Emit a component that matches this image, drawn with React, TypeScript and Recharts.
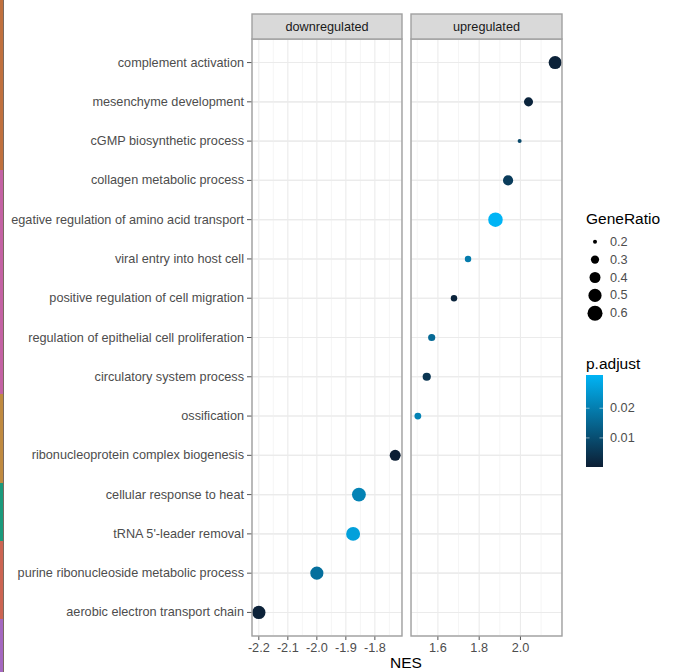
import { ScatterChart, Scatter, XAxis, YAxis, ZAxis, CartesianGrid, ReferenceLine, Cell } from "recharts";

// rows, top to bottom
const terms = [
  "complement activation",
  "mesenchyme development",
  "cGMP biosynthetic process",
  "collagen metabolic process",
  "egative regulation of amino acid transport",
  "viral entry into host cell",
  "positive regulation of cell migration",
  "regulation of epithelial cell proliferation",
  "circulatory system process",
  "ossification",
  "ribonucleoprotein complex biogenesis",
  "cellular response to heat",
  "tRNA 5'-leader removal",
  "purine ribonucleoside metabolic process",
  "aerobic electron transport chain",
];

const upTerms = terms.slice(0, 10);
const upNES = [2.168, 2.039, 1.996, 1.94, 1.879, 1.746, 1.678, 1.57, 1.546, 1.503];
const upRatio = [0.49, 0.32, 0.19, 0.36, 0.57, 0.24, 0.24, 0.26, 0.29, 0.25];
const upPadj = [0.001, 0.0015, 0.009, 0.0065, 0.0312, 0.0195, 0.0015, 0.016, 0.005, 0.021];

const downTerms = terms.slice(10);
const downNES = [-1.73, -1.855, -1.875, -2.0, -2.2];
const downRatio = [0.4, 0.54, 0.54, 0.5, 0.51];
const downPadj = [0.0002, 0.021, 0.027, 0.017, 0.001];

const downTicks = [-2.2, -2.1, -2.0, -1.9, -1.8];
const downMinor = [-2.15, -2.05, -1.95, -1.85, -1.75];
const upTicks = [1.6, 1.8, 2.0];
const upMinor = [1.5, 1.7, 1.9, 2.1];

const sizeBreaks = [0.2, 0.3, 0.4, 0.5, 0.6];
const padjBreaks = [0.01, 0.02];

const SIZE_DOMAIN = [0.2, 0.6];
const AREA_RANGE = [12.6, 177];
const LOW = [12, 30, 52];
const HIGH = [0, 180, 245];
const FONT = "'Liberation Sans', Arial, Helvetica, sans-serif";
const AXIS_FS = 12.7;

const allPadj = [...upPadj, ...downPadj];
const pMin = Math.min(...allPadj);
const pMax = Math.max(...allPadj);

const colorOf = (p: number) => {
  const t = (p - pMin) / (pMax - pMin);
  const c = LOW.map((l, i) => Math.round(l + (HIGH[i] - l) * t));
  return `rgb(${c[0]},${c[1]},${c[2]})`;
};

const build = (names: string[], nes: number[], ratio: number[], padj: number[]) =>
  names.map((term, i) => ({ term, nes: nes[i], ratio: ratio[i], padj: padj[i], row: terms.indexOf(term) }));

const expand = (vals: number[]): [number, number] => {
  const lo = Math.min(...vals);
  const hi = Math.max(...vals);
  const r = hi - lo;
  return [lo - r * 0.05, hi + r * 0.05];
};

const downData = build(downTerms, downNES, downRatio, downPadj);
const upData = build(upTerms, upNES, upRatio, upPadj);

const PLOT_TOP = 39;
const PLOT_BOTTOM = 636;
const H = 672;
const LEFT = { x: 252, w: 150 };
const RIGHT = { x: 411, w: 151 };

// single-line tick so long terms don't wrap
const TermTick = (props: any) => {
  const { x, y, payload } = props;
  return (
    <text x={x} y={y} textAnchor="end" dominantBaseline="central" fontSize={AXIS_FS} fontFamily={FONT} fill="#4d4d4d">
      {terms[payload.value] ?? ""}
    </text>
  );
};

function Panel({
  data,
  ticks,
  minor,
  showY,
  width,
}: {
  data: ReturnType<typeof build>;
  ticks: number[];
  minor: number[];
  showY: boolean;
  width: number;
}) {
  return (
    <ScatterChart
      width={width}
      height={H}
      margin={{ top: PLOT_TOP, right: 0, left: 0, bottom: H - PLOT_BOTTOM - 24 }}
    >
      {minor.map((m) => (
        <ReferenceLine key={m} x={m} stroke="#f3f3f3" strokeWidth={0.8} />
      ))}
      <CartesianGrid stroke="#ebebeb" strokeWidth={1.1} />
      {terms.map((_, i) => (
        <ReferenceLine key={"h" + i} y={i} stroke="#ebebeb" strokeWidth={1.1} />
      ))}
      <XAxis
        type="number"
        dataKey="nes"
        domain={expand(data.map((d) => d.nes))}
        ticks={ticks}
        interval={0}
        height={24}
        axisLine={false}
        tickSize={4}
        tickMargin={3}
        tickLine={{ stroke: "#555" }}
        tick={{ fill: "#4d4d4d", fontSize: AXIS_FS, fontFamily: FONT }}
        tickFormatter={(v: number) => v.toFixed(1)}
      />
      <YAxis
        type="number"
        dataKey="row"
        domain={[-0.6, terms.length - 0.4]}
        reversed
        ticks={terms.map((_, i) => i)}
        interval={0}
        hide={!showY}
        width={showY ? LEFT.x : 0}
        axisLine={false}
        tickSize={5}
        tickMargin={3}
        tickLine={{ stroke: "#555" }}
        tick={<TermTick />}
      />
      <ZAxis type="number" dataKey="ratio" domain={SIZE_DOMAIN} range={AREA_RANGE} />
      <Scatter data={data} isAnimationActive={false}>
        {data.map((d, i) => (
          <Cell key={i} fill={colorOf(d.padj)} />
        ))}
      </Scatter>
    </ScatterChart>
  );
}

const sideBars = [
  { y0: 0, y1: 170, c: "#c0703e" },
  { y0: 170, y1: 394, c: "#c462a4" },
  { y0: 394, y1: 483, c: "#c08a40" },
  { y0: 483, y1: 541, c: "#1a9a7c" },
  { y0: 541, y1: 619, c: "#cc6452" },
  { y0: 619, y1: 672, c: "#a468c0" },
];

export default function App() {
  const areaOf = (v: number) =>
    AREA_RANGE[0] + ((v - SIZE_DOMAIN[0]) / (SIZE_DOMAIN[1] - SIZE_DOMAIN[0])) * (AREA_RANGE[1] - AREA_RANGE[0]);
  const barTop = 375;
  const barBottom = 467;
  const barY = (p: number) => barBottom - ((p - pMin) / (pMax - pMin)) * (barBottom - barTop);

  return (
    <div style={{ position: "absolute", left: 0, top: 0, width: 677, height: H, background: "#fff", overflow: "hidden", fontFamily: FONT }}>
      <div style={{ position: "absolute", left: 0, top: 0 }}>
        <Panel data={downData} ticks={downTicks} minor={downMinor} showY width={LEFT.x + LEFT.w} />
      </div>
      <div style={{ position: "absolute", left: RIGHT.x, top: 0 }}>
        <Panel data={upData} ticks={upTicks} minor={upMinor} showY={false} width={RIGHT.w} />
      </div>
      <svg width={677} height={H} style={{ position: "absolute", left: 0, top: 0, pointerEvents: "none" }}>
        {sideBars.map((b, i) => (
          <rect key={i} x={0} y={b.y0} width={3} height={b.y1 - b.y0} fill={b.c} />
        ))}
        <line x1={3.5} y1={0} x2={3.5} y2={H} stroke="#7a6a60" strokeWidth={1} />
        {[
          { p: LEFT, label: "downregulated" },
          { p: RIGHT, label: "upregulated" },
        ].map(({ p, label }) => (
          <g key={label}>
            <rect x={p.x} y={PLOT_TOP} width={p.w} height={PLOT_BOTTOM - PLOT_TOP} fill="none" stroke="#a0a0a0" strokeWidth={1.4} />
            <rect x={p.x} y={14} width={p.w} height={PLOT_TOP - 14} fill="#d9d9d9" stroke="#a0a0a0" strokeWidth={1.4} />
            <text x={p.x + p.w / 2} y={26.5} textAnchor="middle" dominantBaseline="central" fontSize={AXIS_FS} fill="#1a1a1a">
              {label}
            </text>
          </g>
        ))}
        <text x={406} y={662} textAnchor="middle" dominantBaseline="central" fontSize={15.5} fill="#000">
          NES
        </text>
        <text x={586} y={218} dominantBaseline="central" fontSize={15.5} fill="#000">
          GeneRatio
        </text>
        {sizeBreaks.map((v, i) => (
          <g key={v}>
            <circle cx={595} cy={241.7 + i * 17.9} r={Math.sqrt(areaOf(v) / Math.PI)} fill="#000" />
            <text x={610} y={241.7 + i * 17.9} dominantBaseline="central" fontSize={AXIS_FS} fill="#4d4d4d">
              {v.toFixed(1)}
            </text>
          </g>
        ))}
        <text x={586} y={363} dominantBaseline="central" fontSize={15.5} fill="#000">
          p.adjust
        </text>
        <defs>
          <linearGradient id="pgrad" x1="0" y1="1" x2="0" y2="0">
            <stop offset="0" stopColor={colorOf(pMin)} />
            <stop offset="1" stopColor={colorOf(pMax)} />
          </linearGradient>
        </defs>
        <rect x={586} y={barTop} width={17} height={barBottom - barTop} fill="url(#pgrad)" />
        {padjBreaks.map((p) => (
          <g key={p}>
            <line x1={586} x2={589.5} y1={barY(p)} y2={barY(p)} stroke="#fff" strokeOpacity={0.5} />
            <line x1={599.5} x2={603} y1={barY(p)} y2={barY(p)} stroke="#fff" strokeOpacity={0.5} />
            <text x={610} y={barY(p)} dominantBaseline="central" fontSize={AXIS_FS} fill="#4d4d4d">
              {p.toFixed(2)}
            </text>
          </g>
        ))}
      </svg>
    </div>
  );
}
